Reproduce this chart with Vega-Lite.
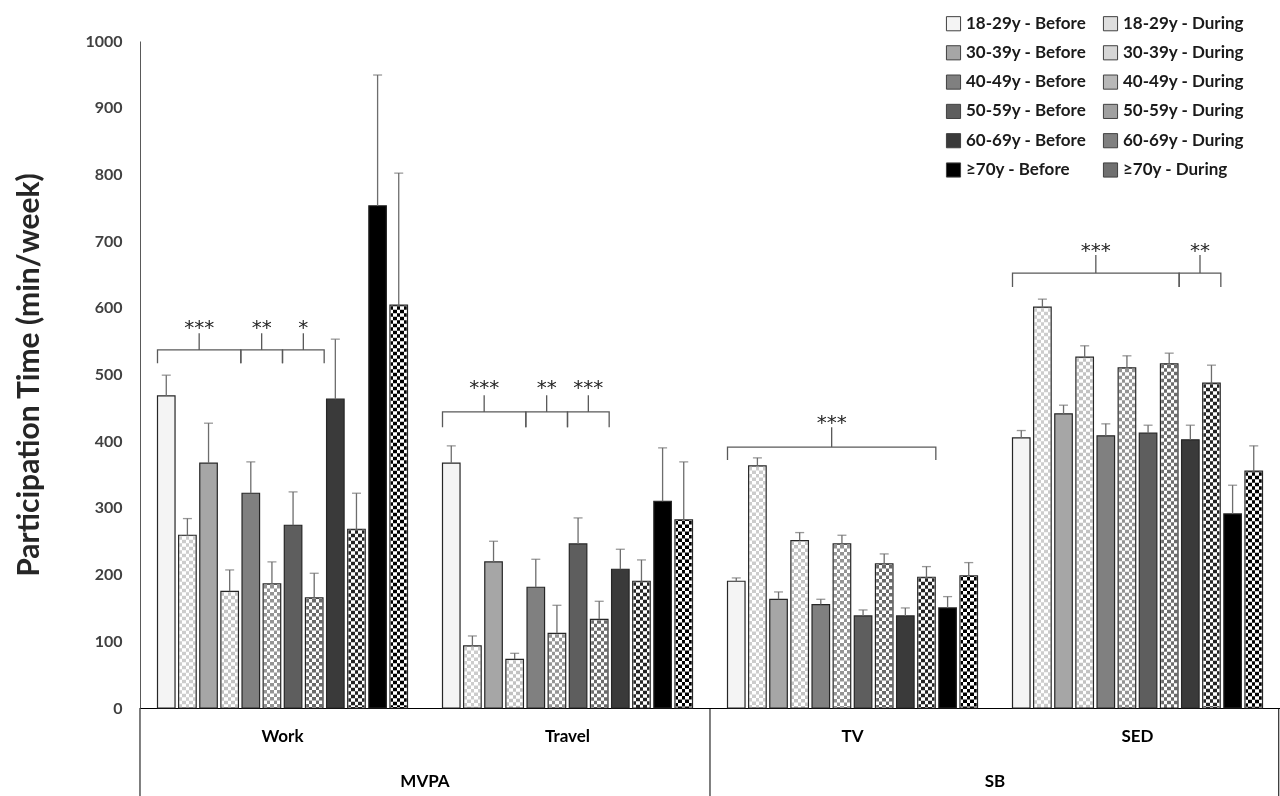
{
  "$schema": "https://vega.github.io/schema/vega-lite/v6.json",
  "width": 1140,
  "height": 667,
  "autosize": {"type": "none"},
  "padding": {"left": 140, "top": 41, "right": 0, "bottom": 88},
  "background": "white",
  "config": {
    "view": {"stroke": null},
    "font": "Lato",
    "axisX": {"orient": "bottom", "labelAngle": 0, "ticks": false, "grid": false, "domainColor": "#000000", "domainWidth": 1, "labelFont": "Lato", "labelFontSize": 17, "labelFontWeight": "bold", "labelColor": "#000000", "labelPadding": 20},
    "axisY": {"grid": false, "ticks": false, "domainColor": "#595959", "domainWidth": 1, "labelFont": "Lato", "labelFontSize": 16, "labelFontWeight": "bold", "labelColor": "#404040", "labelPadding": 18, "titleFont": "Lato", "titleFontSize": 30, "titleFontWeight": "bold", "titleColor": "#262626", "titlePadding": 40, "titleLimit": 1000}
  },
  "resolve": {"scale": {"xOffset": "independent"}},
  "datasets": {
    "bars": [
      {"activity": "Work", "group": "18-29y - Before", "value": 468, "upper": 499},
      {"activity": "Work", "group": "18-29y - During", "value": 259, "upper": 284},
      {"activity": "Work", "group": "30-39y - Before", "value": 367, "upper": 427},
      {"activity": "Work", "group": "30-39y - During", "value": 175, "upper": 207},
      {"activity": "Work", "group": "40-49y - Before", "value": 322, "upper": 369},
      {"activity": "Work", "group": "40-49y - During", "value": 186, "upper": 219},
      {"activity": "Work", "group": "50-59y - Before", "value": 274, "upper": 324},
      {"activity": "Work", "group": "50-59y - During", "value": 165, "upper": 202},
      {"activity": "Work", "group": "60-69y - Before", "value": 463, "upper": 553},
      {"activity": "Work", "group": "60-69y - During", "value": 268, "upper": 322},
      {"activity": "Work", "group": "≥70y - Before", "value": 753, "upper": 949},
      {"activity": "Work", "group": "≥70y - During", "value": 604, "upper": 802},
      {"activity": "Travel", "group": "18-29y - Before", "value": 367, "upper": 393},
      {"activity": "Travel", "group": "18-29y - During", "value": 93, "upper": 108},
      {"activity": "Travel", "group": "30-39y - Before", "value": 219, "upper": 250},
      {"activity": "Travel", "group": "30-39y - During", "value": 73, "upper": 82},
      {"activity": "Travel", "group": "40-49y - Before", "value": 181, "upper": 223},
      {"activity": "Travel", "group": "40-49y - During", "value": 112, "upper": 154},
      {"activity": "Travel", "group": "50-59y - Before", "value": 246, "upper": 285},
      {"activity": "Travel", "group": "50-59y - During", "value": 133, "upper": 160},
      {"activity": "Travel", "group": "60-69y - Before", "value": 208, "upper": 238},
      {"activity": "Travel", "group": "60-69y - During", "value": 190, "upper": 222},
      {"activity": "Travel", "group": "≥70y - Before", "value": 310, "upper": 390},
      {"activity": "Travel", "group": "≥70y - During", "value": 282, "upper": 369},
      {"activity": "TV", "group": "18-29y - Before", "value": 190, "upper": 195},
      {"activity": "TV", "group": "18-29y - During", "value": 363, "upper": 375},
      {"activity": "TV", "group": "30-39y - Before", "value": 163, "upper": 174},
      {"activity": "TV", "group": "30-39y - During", "value": 251, "upper": 263},
      {"activity": "TV", "group": "40-49y - Before", "value": 155, "upper": 163},
      {"activity": "TV", "group": "40-49y - During", "value": 246, "upper": 259},
      {"activity": "TV", "group": "50-59y - Before", "value": 138, "upper": 147},
      {"activity": "TV", "group": "50-59y - During", "value": 216, "upper": 231},
      {"activity": "TV", "group": "60-69y - Before", "value": 138, "upper": 150},
      {"activity": "TV", "group": "60-69y - During", "value": 196, "upper": 212},
      {"activity": "TV", "group": "≥70y - Before", "value": 150, "upper": 167},
      {"activity": "TV", "group": "≥70y - During", "value": 198, "upper": 218},
      {"activity": "SED", "group": "18-29y - Before", "value": 405, "upper": 416},
      {"activity": "SED", "group": "18-29y - During", "value": 601, "upper": 613},
      {"activity": "SED", "group": "30-39y - Before", "value": 441, "upper": 454},
      {"activity": "SED", "group": "30-39y - During", "value": 526, "upper": 543},
      {"activity": "SED", "group": "40-49y - Before", "value": 408, "upper": 426},
      {"activity": "SED", "group": "40-49y - During", "value": 510, "upper": 528},
      {"activity": "SED", "group": "50-59y - Before", "value": 412, "upper": 424},
      {"activity": "SED", "group": "50-59y - During", "value": 516, "upper": 532},
      {"activity": "SED", "group": "60-69y - Before", "value": 402, "upper": 424},
      {"activity": "SED", "group": "60-69y - During", "value": 487, "upper": 514},
      {"activity": "SED", "group": "≥70y - Before", "value": 291, "upper": 334},
      {"activity": "SED", "group": "≥70y - During", "value": 355, "upper": 393}
    ],
    "brackets": [
      {"b": "W1", "k": 1, "activity": "Work", "group": "18-29y - Before", "y": 517},
      {"b": "W1", "k": 2, "activity": "Work", "group": "18-29y - Before", "y": 537},
      {"b": "W1", "k": 3, "activity": "Work", "group": "30-39y - Before", "y": 537},
      {"b": "W1", "k": 4, "activity": "Work", "group": "30-39y - Before", "y": 562},
      {"b": "W1", "k": 5, "activity": "Work", "group": "30-39y - Before", "y": 537},
      {"b": "W1", "k": 6, "activity": "Work", "group": "40-49y - Before", "y": 537},
      {"b": "W1", "k": 7, "activity": "Work", "group": "40-49y - Before", "y": 517},
      {"b": "W2", "k": 1, "activity": "Work", "group": "40-49y - Before", "y": 517},
      {"b": "W2", "k": 2, "activity": "Work", "group": "40-49y - Before", "y": 537},
      {"b": "W2", "k": 3, "activity": "Work", "group": "40-49y - During", "y": 537},
      {"b": "W2", "k": 4, "activity": "Work", "group": "40-49y - During", "y": 562},
      {"b": "W2", "k": 5, "activity": "Work", "group": "40-49y - During", "y": 537},
      {"b": "W2", "k": 6, "activity": "Work", "group": "50-59y - Before", "y": 537},
      {"b": "W2", "k": 7, "activity": "Work", "group": "50-59y - Before", "y": 517},
      {"b": "W3", "k": 1, "activity": "Work", "group": "50-59y - Before", "y": 517},
      {"b": "W3", "k": 2, "activity": "Work", "group": "50-59y - Before", "y": 537},
      {"b": "W3", "k": 3, "activity": "Work", "group": "50-59y - During", "y": 537},
      {"b": "W3", "k": 4, "activity": "Work", "group": "50-59y - During", "y": 562},
      {"b": "W3", "k": 5, "activity": "Work", "group": "50-59y - During", "y": 537},
      {"b": "W3", "k": 6, "activity": "Work", "group": "60-69y - Before", "y": 537},
      {"b": "W3", "k": 7, "activity": "Work", "group": "60-69y - Before", "y": 517},
      {"b": "T1", "k": 1, "activity": "Travel", "group": "18-29y - Before", "y": 421},
      {"b": "T1", "k": 2, "activity": "Travel", "group": "18-29y - Before", "y": 444},
      {"b": "T1", "k": 3, "activity": "Travel", "group": "30-39y - Before", "y": 444},
      {"b": "T1", "k": 4, "activity": "Travel", "group": "30-39y - Before", "y": 469},
      {"b": "T1", "k": 5, "activity": "Travel", "group": "30-39y - Before", "y": 444},
      {"b": "T1", "k": 6, "activity": "Travel", "group": "40-49y - Before", "y": 444},
      {"b": "T1", "k": 7, "activity": "Travel", "group": "40-49y - Before", "y": 421},
      {"b": "T2", "k": 1, "activity": "Travel", "group": "40-49y - Before", "y": 421},
      {"b": "T2", "k": 2, "activity": "Travel", "group": "40-49y - Before", "y": 444},
      {"b": "T2", "k": 3, "activity": "Travel", "group": "40-49y - During", "y": 444},
      {"b": "T2", "k": 4, "activity": "Travel", "group": "40-49y - During", "y": 469},
      {"b": "T2", "k": 5, "activity": "Travel", "group": "40-49y - During", "y": 444},
      {"b": "T2", "k": 6, "activity": "Travel", "group": "50-59y - Before", "y": 444},
      {"b": "T2", "k": 7, "activity": "Travel", "group": "50-59y - Before", "y": 421},
      {"b": "T3", "k": 1, "activity": "Travel", "group": "50-59y - Before", "y": 421},
      {"b": "T3", "k": 2, "activity": "Travel", "group": "50-59y - Before", "y": 444},
      {"b": "T3", "k": 3, "activity": "Travel", "group": "50-59y - During", "y": 444},
      {"b": "T3", "k": 4, "activity": "Travel", "group": "50-59y - During", "y": 469},
      {"b": "T3", "k": 5, "activity": "Travel", "group": "50-59y - During", "y": 444},
      {"b": "T3", "k": 6, "activity": "Travel", "group": "60-69y - Before", "y": 444},
      {"b": "T3", "k": 7, "activity": "Travel", "group": "60-69y - Before", "y": 421},
      {"b": "V1", "k": 1, "activity": "TV", "group": "18-29y - Before", "y": 372},
      {"b": "V1", "k": 2, "activity": "TV", "group": "18-29y - Before", "y": 391},
      {"b": "V1", "k": 3, "activity": "TV", "group": "40-49y - During", "y": 391},
      {"b": "V1", "k": 4, "activity": "TV", "group": "40-49y - During", "y": 421},
      {"b": "V1", "k": 5, "activity": "TV", "group": "40-49y - During", "y": 391},
      {"b": "V1", "k": 6, "activity": "TV", "group": "≥70y - Before", "y": 391},
      {"b": "V1", "k": 7, "activity": "TV", "group": "≥70y - Before", "y": 372},
      {"b": "S1", "k": 1, "activity": "SED", "group": "18-29y - Before", "y": 631},
      {"b": "S1", "k": 2, "activity": "SED", "group": "18-29y - Before", "y": 652},
      {"b": "S1", "k": 3, "activity": "SED", "group": "40-49y - Before", "y": 652},
      {"b": "S1", "k": 4, "activity": "SED", "group": "40-49y - Before", "y": 679},
      {"b": "S1", "k": 5, "activity": "SED", "group": "40-49y - Before", "y": 652},
      {"b": "S1", "k": 6, "activity": "SED", "group": "60-69y - Before", "y": 652},
      {"b": "S1", "k": 7, "activity": "SED", "group": "60-69y - Before", "y": 631},
      {"b": "S2", "k": 1, "activity": "SED", "group": "60-69y - Before", "y": 631},
      {"b": "S2", "k": 2, "activity": "SED", "group": "60-69y - Before", "y": 652},
      {"b": "S2", "k": 3, "activity": "SED", "group": "60-69y - During", "y": 652},
      {"b": "S2", "k": 4, "activity": "SED", "group": "60-69y - During", "y": 679},
      {"b": "S2", "k": 5, "activity": "SED", "group": "60-69y - During", "y": 652},
      {"b": "S2", "k": 6, "activity": "SED", "group": "≥70y - Before", "y": 652},
      {"b": "S2", "k": 7, "activity": "SED", "group": "≥70y - Before", "y": 631}
    ],
    "stars": [
      {"activity": "Work", "group": "30-39y - Before", "y": 561, "label": "***"},
      {"activity": "Work", "group": "40-49y - During", "y": 561, "label": "**"},
      {"activity": "Work", "group": "50-59y - During", "y": 561, "label": "*"},
      {"activity": "Travel", "group": "30-39y - Before", "y": 471, "label": "***"},
      {"activity": "Travel", "group": "40-49y - During", "y": 471, "label": "**"},
      {"activity": "Travel", "group": "50-59y - During", "y": 471, "label": "***"},
      {"activity": "TV", "group": "40-49y - During", "y": 418, "label": "***"},
      {"activity": "SED", "group": "40-49y - Before", "y": 676, "label": "***"},
      {"activity": "SED", "group": "60-69y - During", "y": 676, "label": "**"}
    ],
    "dividersL": [{"activity": "Work"}, {"activity": "TV"}],
    "dividersR": [{"activity": "SED"}],
    "domains": [{"activity": "Work", "label": "MVPA"}, {"activity": "TV", "label": "SB"}]
  },
  "layer": [
    {
      "data": {"name": "bars"},
      "mark": {"type": "bar", "stroke": null},
      "encoding": {
        "x": {"field": "activity", "type": "nominal", "title": null, "scale": {"domain": ["Work", "Travel", "TV", "SED"], "paddingInner": 0.1228, "paddingOuter": 0.0614}},
        "xOffset": {"field": "group", "type": "nominal", "scale": {"domain": ["18-29y - Before", "18-29y - During", "30-39y - Before", "30-39y - During", "40-49y - Before", "40-49y - During", "50-59y - Before", "50-59y - During", "60-69y - Before", "60-69y - During", "≥70y - Before", "≥70y - During"], "paddingInner": 0.17, "paddingOuter": 0}},
        "y": {"field": "value", "type": "quantitative", "scale": {"domain": [0, 1000], "nice": false}, "title": "Participation Time (min/week)", "axis": {"values": [0, 100, 200, 300, 400, 500, 600, 700, 800, 900, 1000], "format": "d"}},
        "fill": {
          "condition": {"test": "indexof(datum.group, 'During') >= 0", "value": {"gradient": "linear", "x1": 0, "y1": 0, "x2": 1, "y2": 0, "stops": [{"offset": 0, "color": "#ffffff"}, {"offset": 0.2, "color": "#ffffff"}, {"offset": 0.2, "color": "#000000"}, {"offset": 0.4, "color": "#000000"}, {"offset": 0.4, "color": "#ffffff"}, {"offset": 0.6, "color": "#ffffff"}, {"offset": 0.6, "color": "#000000"}, {"offset": 0.8, "color": "#000000"}, {"offset": 0.8, "color": "#ffffff"}, {"offset": 1, "color": "#ffffff"}]}},
          "field": "group", "type": "nominal",
          "scale": {
            "domain": ["18-29y - Before", "30-39y - Before", "40-49y - Before", "50-59y - Before", "60-69y - Before", "≥70y - Before", "18-29y - During", "30-39y - During", "40-49y - During", "50-59y - During", "60-69y - During", "≥70y - During"],
            "range": ["#f4f4f4", "#a6a6a6", "#808080", "#5e5e5e", "#3a3a3a", "#000000", "#dedede", "#d6d6d6", "#b8b8b8", "#a0a0a0", "#808080", "#707070"]
          },
          "legend": {"orient": "none", "legendX": 805, "legendY": -26, "columns": 2, "title": null, "padding": 0, "symbolType": "square", "symbolSize": 200, "symbolStrokeColor": "#404040", "symbolStrokeWidth": 1, "labelFont": "Lato", "labelFontSize": 17, "labelFontWeight": "bold", "labelColor": "#1a1a1a", "labelOffset": 4, "labelLimit": 200, "rowPadding": 10.3, "columnPadding": 14}
        }
      }
    },
    {
      "data": {"name": "bars"},
      "transform": [{"filter": "indexof(datum.group, 'During') >= 0"}],
      "mark": {"type": "rule", "color": "#ffffff", "strokeWidth": 16, "strokeDash": [3.5, 3.5], "blend": "difference", "yOffset": 1, "y2Offset": -1},
      "encoding": {
        "x": {"field": "activity", "type": "nominal", "title": null},
        "xOffset": {"field": "group", "type": "nominal", "scale": {"domain": ["18-29y - Before", "18-29y - During", "30-39y - Before", "30-39y - During", "40-49y - Before", "40-49y - During", "50-59y - Before", "50-59y - During", "60-69y - Before", "60-69y - During", "≥70y - Before", "≥70y - During"], "paddingInner": 0.17, "paddingOuter": 0}},
        "y": {"field": "value", "type": "quantitative", "title": "Participation Time (min/week)"},
        "y2": {"datum": 0}
      }
    },
    {
      "data": {"name": "bars"},
      "mark": {"type": "bar", "stroke": "#262626", "strokeWidth": 1.2},
      "encoding": {
        "x": {"field": "activity", "type": "nominal", "title": null},
        "xOffset": {"field": "group", "type": "nominal", "scale": {"domain": ["18-29y - Before", "18-29y - During", "30-39y - Before", "30-39y - During", "40-49y - Before", "40-49y - During", "50-59y - Before", "50-59y - During", "60-69y - Before", "60-69y - During", "≥70y - Before", "≥70y - During"], "paddingInner": 0.17, "paddingOuter": 0}},
        "y": {"field": "value", "type": "quantitative", "title": "Participation Time (min/week)"},
        "fill": {
          "condition": [
            {"test": "datum.group === '18-29y - During'", "value": "rgba(255,255,255,0.8)"},
            {"test": "datum.group === '30-39y - During'", "value": "rgba(255,255,255,0.76)"},
            {"test": "datum.group === '40-49y - During'", "value": "rgba(255,255,255,0.58)"},
            {"test": "datum.group === '50-59y - During'", "value": "rgba(255,255,255,0.42)"},
            {"test": "datum.group === '60-69y - During'", "value": "rgba(255,255,255,0.14)"}
          ],
          "value": "transparent"
        }
      }
    },
    {
      "data": {"name": "bars"},
      "mark": {"type": "rule", "color": "#6d6d6d", "strokeWidth": 1.3},
      "encoding": {
        "x": {"field": "activity", "type": "nominal", "title": null},
        "xOffset": {"field": "group", "type": "nominal", "scale": {"domain": ["18-29y - Before", "18-29y - During", "30-39y - Before", "30-39y - During", "40-49y - Before", "40-49y - During", "50-59y - Before", "50-59y - During", "60-69y - Before", "60-69y - During", "≥70y - Before", "≥70y - During"], "paddingInner": 0.17, "paddingOuter": 0}},
        "y": {"field": "value", "type": "quantitative", "title": "Participation Time (min/week)"},
        "y2": {"field": "upper"}
      }
    },
    {
      "data": {"name": "bars"},
      "mark": {"type": "tick", "color": "#6d6d6d", "thickness": 1.3, "size": 9},
      "encoding": {
        "x": {"field": "activity", "type": "nominal", "title": null},
        "xOffset": {"field": "group", "type": "nominal", "scale": {"domain": ["18-29y - Before", "18-29y - During", "30-39y - Before", "30-39y - During", "40-49y - Before", "40-49y - During", "50-59y - Before", "50-59y - During", "60-69y - Before", "60-69y - During", "≥70y - Before", "≥70y - During"], "paddingInner": 0.17, "paddingOuter": 0}},
        "y": {"field": "upper", "type": "quantitative", "title": "Participation Time (min/week)"}
      }
    },
    {
      "data": {"name": "brackets"},
      "mark": {"type": "line", "color": "#595959", "strokeWidth": 1.3},
      "encoding": {
        "x": {"field": "activity", "type": "nominal", "title": null},
        "xOffset": {"field": "group", "type": "nominal", "scale": {"type": "point", "padding": 0, "domain": ["18-29y - Before", "18-29y - During", "30-39y - Before", "30-39y - During", "40-49y - Before", "40-49y - During", "50-59y - Before", "50-59y - During", "60-69y - Before", "60-69y - During", "≥70y - Before", "≥70y - During", "end"]}},
        "y": {"field": "y", "type": "quantitative", "title": "Participation Time (min/week)"},
        "detail": {"field": "b", "type": "nominal"},
        "order": {"field": "k", "type": "quantitative"}
      }
    },
    {
      "data": {"name": "stars"},
      "mark": {"type": "text", "font": "DejaVu Sans", "fontSize": 20, "align": "center", "baseline": "alphabetic", "color": "#262626"},
      "encoding": {
        "x": {"field": "activity", "type": "nominal", "title": null},
        "xOffset": {"field": "group", "type": "nominal", "scale": {"type": "point", "padding": 0, "domain": ["18-29y - Before", "18-29y - During", "30-39y - Before", "30-39y - During", "40-49y - Before", "40-49y - During", "50-59y - Before", "50-59y - During", "60-69y - Before", "60-69y - During", "≥70y - Before", "≥70y - During", "end"]}},
        "y": {"field": "y", "type": "quantitative", "title": "Participation Time (min/week)"},
        "text": {"field": "label"}
      }
    },
    {
      "data": {"name": "dividersL"},
      "mark": {"type": "rule", "color": "#000000", "strokeWidth": 1},
      "encoding": {
        "x": {"field": "activity", "type": "nominal", "title": null, "bandPosition": -0.07},
        "y": {"datum": 0, "type": "quantitative", "title": "Participation Time (min/week)"},
        "y2": {"datum": -132}
      }
    },
    {
      "data": {"name": "dividersR"},
      "mark": {"type": "rule", "color": "#000000", "strokeWidth": 1},
      "encoding": {
        "x": {"field": "activity", "type": "nominal", "title": null, "bandPosition": 1.065},
        "y": {"datum": 0, "type": "quantitative", "title": "Participation Time (min/week)"},
        "y2": {"datum": -132}
      }
    },
    {
      "data": {"name": "domains"},
      "mark": {"type": "text", "font": "Lato", "fontSize": 17, "fontWeight": "bold", "align": "center", "baseline": "middle", "color": "#000000"},
      "encoding": {
        "x": {"field": "activity", "type": "nominal", "title": null, "bandPosition": 1.07},
        "y": {"datum": -111, "type": "quantitative", "title": "Participation Time (min/week)"},
        "text": {"field": "label"}
      }
    }
  ]
}
